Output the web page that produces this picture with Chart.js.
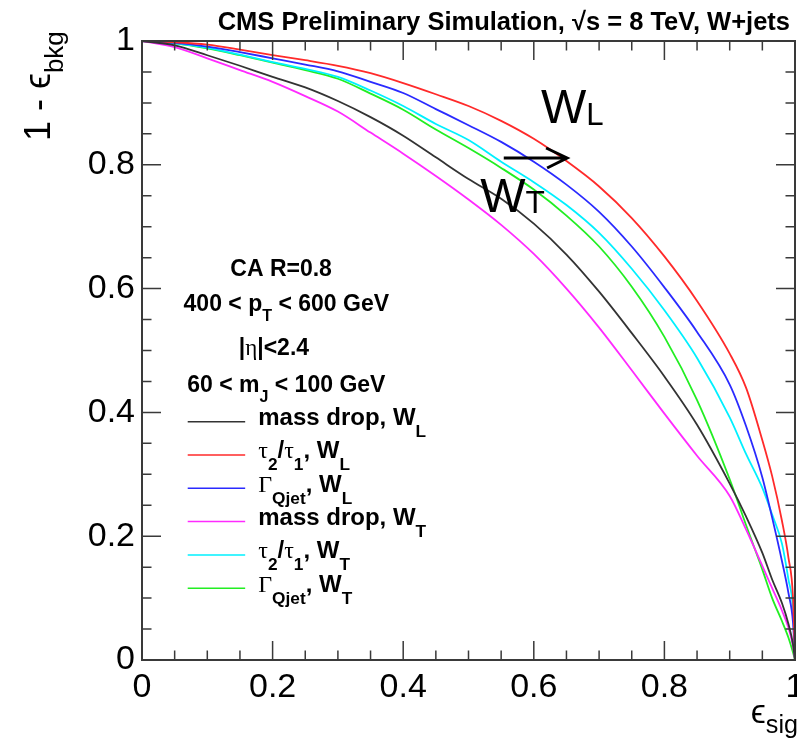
<!DOCTYPE html>
<html>
<head>
<meta charset="utf-8">
<script src="https://cdn.jsdelivr.net/npm/chart.js@4.4.1/dist/chart.umd.min.js"></script>
<style>
  html, body { margin: 0; padding: 0; background: #fff; }
</style>
</head>
<body>
<canvas id="roc" width="797" height="746"></canvas>
<script>
// signal efficiency (x) shared by all curves
const sigEff = [0, 0.05, 0.1, 0.15, 0.2, 0.25, 0.3, 0.35, 0.4, 0.45, 0.5, 0.55, 0.6, 0.65,
                0.7, 0.75, 0.8, 0.85, 0.9, 0.925, 0.95, 0.965, 0.98, 0.99, 0.997, 1];

// 1 - background efficiency
const massDropWL = [1, 0.993, 0.977, 0.960, 0.942, 0.925, 0.903, 0.877, 0.847, 0.812, 0.777, 0.745, 0.705, 0.655,
                    0.595, 0.528, 0.458, 0.380, 0.285, 0.232, 0.173, 0.130, 0.092, 0.058, 0.025, 0];
const tauWL      = [1, 0.998, 0.994, 0.986, 0.977, 0.969, 0.960, 0.948, 0.932, 0.914, 0.895, 0.871, 0.842, 0.806,
                    0.765, 0.714, 0.652, 0.580, 0.495, 0.440, 0.355, 0.297, 0.225, 0.165, 0.100, 0];
const qjetWL     = [1, 0.997, 0.991, 0.982, 0.972, 0.962, 0.951, 0.934, 0.916, 0.890, 0.864, 0.837, 0.805, 0.768,
                    0.724, 0.668, 0.602, 0.530, 0.445, 0.378, 0.295, 0.230, 0.160, 0.108, 0.060, 0];
const massDropWT = [1, 0.990, 0.972, 0.953, 0.934, 0.911, 0.886, 0.852, 0.818, 0.782, 0.744, 0.703, 0.656, 0.600,
                    0.537, 0.468, 0.398, 0.330, 0.265, 0.211, 0.152, 0.116, 0.080, 0.052, 0.022, 0];
const tauWT      = [1, 0.996, 0.989, 0.978, 0.966, 0.955, 0.942, 0.920, 0.895, 0.866, 0.840, 0.805, 0.772, 0.735,
                    0.690, 0.632, 0.565, 0.488, 0.392, 0.333, 0.278, 0.235, 0.188, 0.130, 0.080, 0];
const qjetWT     = [1, 0.996, 0.988, 0.977, 0.965, 0.953, 0.939, 0.915, 0.889, 0.857, 0.827, 0.795, 0.760, 0.718,
                    0.668, 0.603, 0.522, 0.420, 0.292, 0.218, 0.146, 0.100, 0.063, 0.036, 0.012, 0];

const seriesLabels = ['mass drop, W_{L}', 'τ_{2}/τ_{1}, W_{L}', 'Γ_{Qjet}, W_{L}',
                      'mass drop, W_{T}', 'τ_{2}/τ_{1}, W_{T}', 'Γ_{Qjet}, W_{T}'];
const seriesValues = [massDropWL, tauWL, qjetWL, massDropWT, tauWT, qjetWT];
const seriesColors = ['#333333', '#ff2a2a', '#2a2aff', '#ff2aff', '#00f0ff', '#22ee22'];

const xTickLabels = ['0', '0.2', '0.4', '0.6', '0.8', '1'];
const yTickLabels = ['0', '0.2', '0.4', '0.6', '0.8', '1'];
const cutTexts = ['CA R=0.8', '400 < p_{T} < 600 GeV', '|η|<2.4', '60 < m_{J} < 100 GeV'];

const SANS = '"Liberation Sans", Arial, Helvetica, sans-serif';
const SERIF = '"Liberation Serif", "Times New Roman", serif';

// draws text with _{...} subscripts; greek letters in a serif face
function richText(ctx, str, x, y, size, o) {
  o = Object.assign({ bold: false, align: 'left', subScale: 0.72, subShift: 0.4, greekSerif: false }, o);
  const parts = [];
  const re = /_\{([^}]*)\}/g;
  let last = 0, m;
  while ((m = re.exec(str))) {
    if (m.index > last) parts.push({ t: str.slice(last, m.index), sub: false });
    parts.push({ t: m[1], sub: true });
    last = re.lastIndex;
  }
  if (last < str.length) parts.push({ t: str.slice(last), sub: false });

  const runs = [];
  parts.forEach(p => {
    (p.t.match(/[\u0370-\u03ff]+|[^\u0370-\u03ff]+/g) || []).forEach(seg => {
      runs.push({ t: seg, sub: p.sub, greek: /[\u0370-\u03ff]/.test(seg) });
    });
  });
  const fontFor = r => {
    const s = r.sub ? size * o.subScale : size;
    if (r.greek && o.greekSerif) return `${s}px ${SERIF}`;
    return `${o.bold ? 'bold ' : ''}${s}px ${SANS}`;
  };
  let total = 0;
  runs.forEach(r => { ctx.font = fontFor(r); r.w = ctx.measureText(r.t).width; total += r.w; });
  let cx = x;
  if (o.align === 'center') cx -= total / 2;
  if (o.align === 'right') cx -= total;
  ctx.textAlign = 'left';
  ctx.textBaseline = 'alphabetic';
  runs.forEach(r => {
    ctx.font = fontFor(r);
    ctx.fillText(r.t, cx, y + (r.sub ? size * o.subShift : 0));
    cx += r.w;
  });
}

const rootStyle = {
  id: 'rootStyle',
  afterDraw(chart) {
    const { ctx, chartArea: a, scales: { x, y } } = chart;
    ctx.save();
    ctx.fillStyle = '#000';

    // frame
    ctx.strokeStyle = '#3a3a3a';
    ctx.lineWidth = 2;
    ctx.strokeRect(a.left, a.top, a.right - a.left, a.bottom - a.top);

    // inward ticks on all four sides
    ctx.lineWidth = 1.5;
    ctx.beginPath();
    for (let i = 0; i <= 20; i++) {
      const v = i * 0.05;
      const len = i % 4 === 0 ? 19 : 9.5;
      const px = x.getPixelForValue(v);
      const py = y.getPixelForValue(v);
      ctx.moveTo(px, a.bottom); ctx.lineTo(px, a.bottom - len);
      ctx.moveTo(px, a.top); ctx.lineTo(px, a.top + len);
      ctx.moveTo(a.left, py); ctx.lineTo(a.left + len, py);
      ctx.moveTo(a.right, py); ctx.lineTo(a.right - len, py);
    }
    ctx.stroke();

    // x tick labels
    ctx.font = `34px ${SANS}`;
    ctx.textAlign = 'center';
    ctx.textBaseline = 'alphabetic';
    xTickLabels.forEach((t, i) => ctx.fillText(t, x.getPixelForValue(i * 0.2), a.bottom + 37));

    // axis titles
    richText(ctx, 'ϵ_{sig}', 798, 723, 34, { align: 'right', subScale: 0.74, subShift: 0.3 });
    ctx.save();
    ctx.translate(50, 141);
    ctx.rotate(-Math.PI / 2);
    richText(ctx, '1 - ϵ_{bkg}', 0, 0, 36, { subScale: 0.72, subShift: 0.36 });
    ctx.restore();

    // header
    ctx.font = `bold 25.5px ${SANS}`;
    ctx.textAlign = 'right';
    ctx.fillText('CMS Preliminary Simulation, √s = 8 TeV, W+jets', 790, 30);

    // W_L / W_T annotation with arrow
    richText(ctx, 'W_{L}', x.getPixelForValue(0.611), y.getPixelForValue(0.867), 48, { subScale: 0.65, subShift: 0.04 });
    richText(ctx, 'W_{T}', x.getPixelForValue(0.518), y.getPixelForValue(0.724), 48, { subScale: 0.66, subShift: 0.03 });
    const ay = y.getPixelForValue(0.811);
    const ax0 = x.getPixelForValue(0.554), ax1 = x.getPixelForValue(0.651);
    ctx.strokeStyle = '#000';
    ctx.lineWidth = 3;
    ctx.beginPath();
    ctx.moveTo(ax0, ay); ctx.lineTo(ax1, ay);
    ctx.moveTo(ax1 - 21, ay - 10); ctx.lineTo(ax1, ay); ctx.lineTo(ax1 - 20, ay + 10);
    ctx.stroke();

    // selection text
    const cutPos = [[0.213, 0.620], [0.221, 0.564], [0.202, 0.493], [0.221, 0.433]];
    cutTexts.forEach((t, i) => {
      richText(ctx, t, x.getPixelForValue(cutPos[i][0]), y.getPixelForValue(cutPos[i][1]), 23,
               { bold: true, align: 'center', greekSerif: true, subScale: 0.7, subShift: 0.42 });
    });

    // legend
    chart.data.datasets.forEach((ds, i) => {
      const ry = y.getPixelForValue(0.385 - i * 0.0538);
      ctx.strokeStyle = ds.borderColor;
      ctx.lineWidth = 1.5;
      ctx.beginPath();
      ctx.moveTo(x.getPixelForValue(0.070), ry);
      ctx.lineTo(x.getPixelForValue(0.158), ry);
      ctx.stroke();
      richText(ctx, ds.label, x.getPixelForValue(0.178), ry + 3.5, 24,
               { bold: true, greekSerif: true, subScale: 0.72, subShift: 0.5 });
    });
    ctx.restore();
  }
};

new Chart(document.getElementById('roc'), {
  type: 'scatter',
  data: {
    datasets: seriesValues.map((vals, i) => ({
      label: seriesLabels[i],
      data: vals.map((v, j) => ({ x: sigEff[j], y: v })),
      showLine: true,
      borderColor: seriesColors[i],
      backgroundColor: seriesColors[i],
      borderWidth: 1.8,
      pointRadius: 0,
      cubicInterpolationMode: 'monotone',
      fill: false
    }))
  },
  options: {
    responsive: false,
    animation: false,
    layout: { padding: { top: 41, right: 2, left: 0, bottom: 0 } },
    plugins: { legend: { display: false }, tooltip: { enabled: false } },
    scales: {
      x: {
        type: 'linear', min: 0, max: 1,
        grid: { display: false }, border: { display: false },
        ticks: { display: false, stepSize: 0.2 },
        afterFit(s) { s.height = 86; }
      },
      y: {
        type: 'linear', min: 0, max: 1,
        grid: { display: false, drawTicks: false }, border: { display: false },
        ticks: {
          stepSize: 0.2, color: '#000', padding: 7,
          font: { size: 34, family: SANS },
          callback: v => yTickLabels[Math.round(v / 0.2)]
        },
        afterFit(s) { s.width = 142; }
      }
    }
  },
  plugins: [rootStyle]
});
</script>
</body>
</html>
